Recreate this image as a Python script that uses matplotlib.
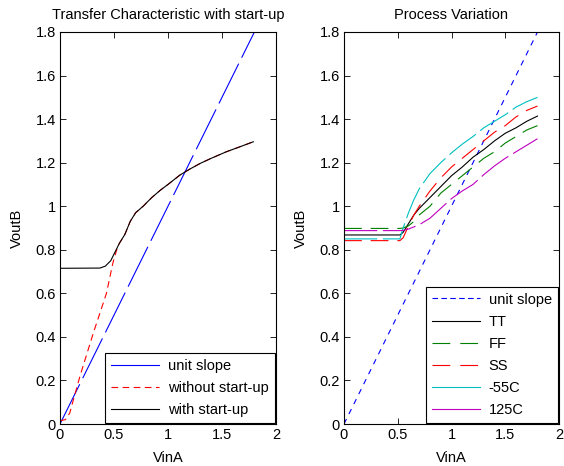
"""Transfer characteristic and process variation plots."""
import matplotlib

matplotlib.use("Agg")
import matplotlib.pyplot as plt
from matplotlib.lines import Line2D

plt.rcParams["font.family"] = ["Liberation Sans", "DejaVu Sans"]
plt.rcParams["font.size"] = 10.5

# left panel
unit_x = [0.0, 1.8]
unit_y = [0.0, 1.8]

nostart_x = [0.0, 0.05, 0.09, 0.185, 0.31, 0.43, 0.49, 0.525, 0.55, 0.6, 0.65, 0.7, 0.77,
             0.85, 0.93, 1.0, 1.11, 1.2, 1.3, 1.4, 1.54, 1.65, 1.79]
nostart_y = [0.015, 0.02, 0.05, 0.22, 0.42, 0.60, 0.74, 0.80, 0.83, 0.87, 0.93, 0.97, 1.0,
             1.04, 1.074, 1.10, 1.143, 1.17, 1.197, 1.22, 1.25, 1.27, 1.296]

start_x = [0.0, 0.37, 0.42, 0.47, 0.5, 0.55, 0.6, 0.65, 0.7, 0.77, 0.85, 0.93, 1.0,
           1.11, 1.2, 1.3, 1.4, 1.54, 1.65, 1.79]
start_y = [0.715, 0.716, 0.725, 0.75, 0.78, 0.83, 0.87, 0.93, 0.97, 1.0, 1.04, 1.074, 1.10,
           1.143, 1.17, 1.197, 1.22, 1.25, 1.27, 1.296]

# right panel
proc_x = [0.0, 0.52, 0.55, 0.6, 0.65, 0.7, 0.8, 0.9, 1.0, 1.1, 1.2, 1.3, 1.4, 1.5, 1.6, 1.7, 1.8]
tt_y = [0.868, 0.868, 0.88, 0.92, 0.96, 0.99, 1.04, 1.09, 1.14, 1.18, 1.225, 1.26, 1.30,
        1.335, 1.36, 1.39, 1.414]
ff_y = [0.898, 0.898, 0.90, 0.91, 0.93, 0.96, 1.0, 1.06, 1.10, 1.14, 1.18, 1.22, 1.25,
        1.29, 1.32, 1.35, 1.37]
ss_y = [0.842, 0.842, 0.855, 0.91, 0.96, 1.0, 1.07, 1.13, 1.18, 1.22, 1.26, 1.30, 1.34,
        1.37, 1.41, 1.44, 1.46]
m55_y = [0.85, 0.85, 0.9, 0.97, 1.03, 1.08, 1.15, 1.20, 1.245, 1.285, 1.32, 1.36, 1.39,
         1.42, 1.455, 1.48, 1.50]
t125_y = [0.888, 0.888, 0.889, 0.895, 0.905, 0.915, 0.945, 0.99, 1.035, 1.07, 1.10, 1.145,
          1.185, 1.22, 1.25, 1.28, 1.31]

x_ticks = [0, 0.5, 1, 1.5, 2]
x_labels = ["0", "0.5", "1", "1.5", "2"]
y_ticks = [0, 0.2, 0.4, 0.6, 0.8, 1.0, 1.2, 1.4, 1.6, 1.8]
y_labels = ["0", "0.2", "0.4", "0.6", "0.8", "1", "1.2", "1.4", "1.6", "1.8"]

GREEN = (0, 0.5, 0)
CYAN = (0, 0.75, 0.75)
MAGENTA = (0.75, 0, 0.75)
LW = 0.8


def style_axes(ax, title):
    ax.set_xlim(0, 2)
    ax.set_ylim(0, 1.8)
    ax.set_xticks(x_ticks, x_labels)
    ax.set_yticks(y_ticks, y_labels)
    ax.tick_params(direction="in", top=True, right=True, length=4, width=0.6,
                   labelsize=10.5, pad=3)
    for spine in ax.spines.values():
        spine.set_linewidth(0.8)
    ax.set_title(title, fontsize=10.5, pad=9.5)
    ax.set_xlabel("VinA", labelpad=6)
    ax.set_ylabel("VoutB", labelpad=8)


def add_legend(ax, handles, labels):
    leg = ax.legend(handles, labels, loc="lower right", fancybox=False, edgecolor="k",
                    framealpha=1, borderaxespad=0.1, handlelength=3.3, handletextpad=0.6,
                    labelspacing=0.55, fontsize=10.5, borderpad=0.4)
    leg.get_frame().set_linewidth(0.8)


fig = plt.figure(figsize=(5.64, 4.66), dpi=100)
ax1 = fig.add_axes([60 / 564, 42 / 466, 216 / 564, 392 / 466])
ax2 = fig.add_axes([344 / 564, 42 / 466, 215 / 564, 392 / 466])

# left
ax1.plot(unit_x, unit_y, color="b", lw=LW, dashes=(40, 6))
ax1.plot(nostart_x, nostart_y, color="r", lw=LW, dashes=(6, 4))
ax1.plot(start_x, start_y, color="k", lw=LW)
add_legend(ax1, [
    Line2D([], [], color="b", lw=LW),
    Line2D([], [], color="r", lw=LW, dashes=(6, 4)),
    Line2D([], [], color="k", lw=LW),
], ["unit slope", "without start-up", "with start-up"])
style_axes(ax1, "Transfer Characteristic with start-up")

# right
ax2.plot(unit_x, unit_y, color="b", lw=LW, dashes=(5, 5))
ax2.plot(proc_x, tt_y, color="k", lw=LW)
ax2.plot(proc_x, ff_y, color=GREEN, lw=LW, dashes=(16, 8))
ax2.plot(proc_x, ss_y, color="r", lw=LW, dashes=(16, 8))
ax2.plot(proc_x, m55_y, color=CYAN, lw=LW, dashes=(30, 5))
ax2.plot(proc_x, t125_y, color=MAGENTA, lw=LW, dashes=(30, 5))
add_legend(ax2, [
    Line2D([], [], color="b", lw=LW, dashes=(5, 3)),
    Line2D([], [], color="k", lw=LW),
    Line2D([], [], color=GREEN, lw=LW, dashes=(16, 9)),
    Line2D([], [], color="r", lw=LW, dashes=(16, 9)),
    Line2D([], [], color=CYAN, lw=LW),
    Line2D([], [], color=MAGENTA, lw=LW),
], ["unit slope", "TT", "FF", "SS", "-55C", "125C"])
style_axes(ax2, "Process Variation")

fig.savefig("out.png", dpi=100)
